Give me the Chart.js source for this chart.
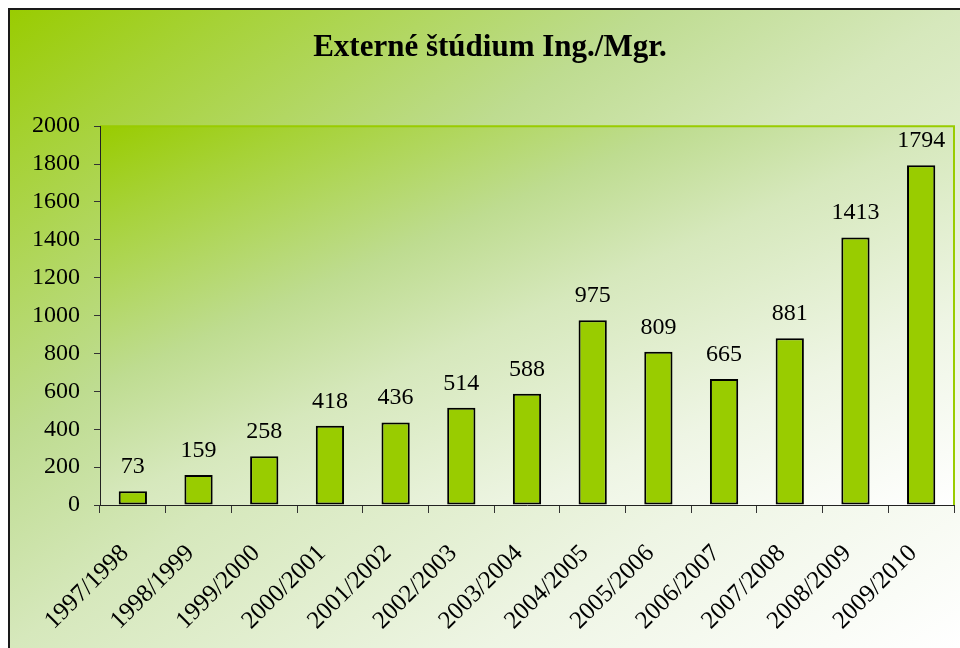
<!DOCTYPE html>
<html><head><meta charset="utf-8">
<script src="https://cdn.jsdelivr.net/npm/chart.js@4.4.1/dist/chart.umd.min.js"></script>
<style>html,body{margin:0;padding:0;background:#fff}#wrap{width:960px;height:648px}</style>
</head><body><div id="wrap"><canvas id="c" width="960" height="648"></canvas></div>
<script>
const chartTitle = 'Externé štúdium Ing./Mgr.';
const categories = ['1997/1998','1998/1999','1999/2000','2000/2001','2001/2002','2002/2003','2003/2004','2004/2005','2005/2006','2006/2007','2007/2008','2008/2009','2009/2010'];
const values = [73,159,258,418,436,514,588,975,809,665,881,1413,1794];
const yMin = 0, yMax = 2000, yStep = 200;

const FONT = 'Liberation Serif';

function boxGradient(ctx, x0, y0, w, h) {
  const n = Math.hypot(h, w);
  const dx = h / n, dy = w / n;
  const L = (w * dx + h * dy);
  const g = ctx.createLinearGradient(x0, y0, x0 + dx * L, y0 + dy * L);
  g.addColorStop(0, '#99cc00');
  g.addColorStop(0.12, '#a6d236');
  g.addColorStop(0.34, '#bedc90');
  g.addColorStop(0.5, '#d6e8bc');
  g.addColorStop(0.75, '#eef5e4');
  g.addColorStop(1, '#ffffff');
  return g;
}

const framePlugin = {
  id: 'frame',
  beforeDraw(chart) {
    const ctx = chart.ctx, a = chart.chartArea;
    ctx.save();
    ctx.fillStyle = '#ffffff';
    ctx.fillRect(0, 0, chart.width, chart.height);
    ctx.fillStyle = boxGradient(ctx, 8, 8, chart.width - 8, chart.height - 8);
    ctx.fillRect(8, 8, chart.width - 8, chart.height - 8);
    ctx.fillStyle = boxGradient(ctx, a.left, a.top, a.right - a.left, a.bottom - a.top);
    ctx.fillRect(a.left, a.top, a.right - a.left, a.bottom - a.top);
    ctx.strokeStyle = '#1a1a1a';
    ctx.lineWidth = 2;
    ctx.beginPath();
    ctx.moveTo(9, chart.height);
    ctx.lineTo(9, 9);
    ctx.lineTo(chart.width, 9);
    ctx.stroke();
    ctx.strokeStyle = '#99cc00';
    ctx.lineWidth = 2;
    ctx.beginPath();
    ctx.moveTo(a.left, a.top);
    ctx.lineTo(a.right, a.top);
    ctx.lineTo(a.right, a.bottom);
    ctx.stroke();
    ctx.restore();
  }
};

const valueLabels = {
  id: 'valueLabels',
  afterDatasetsDraw(chart) {
    const ctx = chart.ctx;
    const meta = chart.getDatasetMeta(0);
    ctx.save();
    ctx.font = '24px "' + FONT + '"';
    ctx.fillStyle = '#000';
    ctx.textAlign = 'center';
    ctx.textBaseline = 'alphabetic';
    meta.data.forEach((el, i) => {
      ctx.fillText(String(values[i]), el.x, el.y - 18);
    });
    ctx.restore();
  }
};

new Chart(document.getElementById('c'), {
  type: 'bar',
  data: {
    labels: categories,
    datasets: [{
      data: values,
      backgroundColor: '#99cc00',
      borderColor: '#000000',
      borderWidth: 2,
      borderSkipped: false,
      barPercentage: 0.43,
      categoryPercentage: 1
    }]
  },
  options: {
    responsive: false,
    animation: false,
    devicePixelRatio: 1,
    layout: { padding: { top: 0, left: 26, right: 6, bottom: 0 } },
    plugins: {
      legend: { display: false },
      tooltip: { enabled: false },
      title: {
        display: true,
        text: chartTitle,
        color: '#000',
        font: { family: FONT, size: 31, weight: 'bold' },
        padding: { top: 29, bottom: 60 }
      }
    },
    scales: {
      x: {
        offset: true,
        grid: { display: true, drawOnChartArea: false, offset: true, tickLength: 8, color: '#333' },
        border: { color: '#222', width: 1 },
        ticks: { color: '#000', font: { family: FONT, size: 25 }, minRotation: 45, maxRotation: 45, autoSkip: false, padding: 26, labelOffset: -8 },
        afterFit(scale) { scale.height = 648 - 505; scale.paddingLeft = 0; scale.paddingRight = 0; }
      },
      y: {
        min: yMin, max: yMax,
        grid: { drawOnChartArea: false, tickLength: 6, color: '#333' },
        border: { color: '#222', width: 1 },
        ticks: { stepSize: yStep, color: '#000', font: { family: FONT, size: 24 }, padding: 14, callback: v => String(v) },
        afterFit(scale) { scale.width = 74; scale.paddingTop = 0; scale.paddingBottom = 0; }
      }
    }
  },
  plugins: [framePlugin, valueLabels]
});
</script>
</body></html>
